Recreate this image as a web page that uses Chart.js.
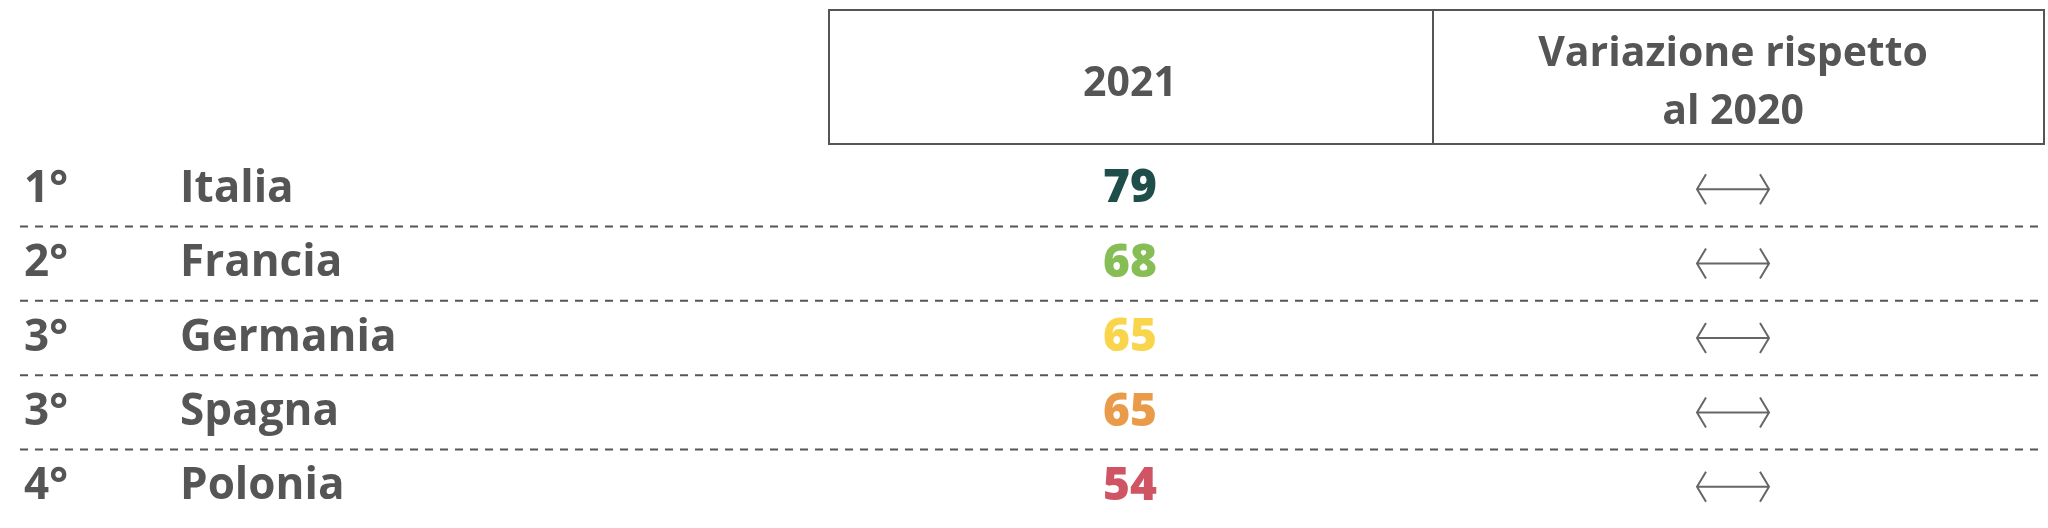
<!DOCTYPE html>
<html><head><meta charset="utf-8">
<script src="https://cdn.jsdelivr.net/npm/chart.js@4"></script>
<style>html,body{margin:0;padding:0;background:#fff}#w{width:2048px;height:528px}</style>
</head><body><div id="w"><canvas id="c"></canvas></div>
<script>
const ranks = ['1°','2°','3°','3°','4°'];
const countries = ['Italia','Francia','Germania','Spagna','Polonia'];
const values2021 = [79,68,65,65,54];
const valueColors = ['#1f4d49','#86bd55','#f8d54a','#ea9b49','#cf5464'];
const variation = ['same','same','same','same','same'];
const headers = ['2021','Variazione rispetto','al 2020'];
const TXT = '#555555';
const F = '"Open Sans", Roboto, sans-serif';

const tablePlugin = {
  id:'table',
  afterDraw(chart){
    const ctx = chart.ctx, y = chart.scales.y, x = chart.scales.x;
    const colNum = x.getPixelForValue(1130), colVar = x.getPixelForValue(1733);
    ctx.save();
    ctx.strokeStyle = '#555'; ctx.lineWidth = 2;
    ctx.strokeRect(x.getPixelForValue(829), 10, x.getPixelForValue(2044)-x.getPixelForValue(829), 134);
    ctx.beginPath(); ctx.moveTo(x.getPixelForValue(1433),10); ctx.lineTo(x.getPixelForValue(1433),144); ctx.stroke();
    ctx.fillStyle = TXT; ctx.textAlign='center'; ctx.textBaseline='middle';
    ctx.font = `bold 41px ${F}`;
    ctx.fillText(headers[0], colNum, 84);
    ctx.fillText(headers[1], colVar, 54);
    ctx.fillText(headers[2], colVar, 112);
    countries.forEach((c,i)=>{
      const py = y.getPixelForValue(i);
      ctx.textAlign='left'; ctx.fillStyle=TXT; ctx.font=`bold 44px ${F}`;
      ctx.fillText(ranks[i], 24, py);
      ctx.fillText(c, 180, py);
      ctx.textAlign='center'; ctx.fillStyle=valueColors[i]; ctx.font=`800 46px ${F}`;
      ctx.fillText(String(values2021[i]), colNum, py);
      if (variation[i]==='same'){
        ctx.strokeStyle='#666'; ctx.lineWidth=2;
        const l=colVar-36, r=colVar+36;
        ctx.beginPath();
        ctx.moveTo(l,py); ctx.lineTo(r,py);
        ctx.moveTo(l+9,py-15); ctx.lineTo(l,py); ctx.lineTo(l+9,py+15);
        ctx.moveTo(r-9,py-15); ctx.lineTo(r,py); ctx.lineTo(r-9,py+15);
        ctx.stroke();
      }
      if (i<countries.length-1){
        const ly=(py+y.getPixelForValue(i+1))/2;
        ctx.strokeStyle='#555'; ctx.lineWidth=2; ctx.setLineDash([8,7]);
        ctx.beginPath(); ctx.moveTo(20,ly); ctx.lineTo(2044,ly); ctx.stroke(); ctx.setLineDash([]);
      }
    });
    ctx.restore();
  }
};

new Chart(document.getElementById('c'),{
  type:'scatter',
  data:{labels:countries,datasets:[{data:values2021.map((v,i)=>({x:1130,y:countries[i]})),pointRadius:0}]},
  options:{
    responsive:true,maintainAspectRatio:false,animation:false,
    layout:{padding:{top:152,bottom:4,left:0,right:0}},
    plugins:{legend:{display:false},tooltip:{enabled:false}},
    scales:{
      x:{type:'linear',min:0,max:2048,display:false},
      y:{type:'category',labels:countries,offset:true,display:false}
    }
  },
  plugins:[tablePlugin]
});
</script></body></html>
